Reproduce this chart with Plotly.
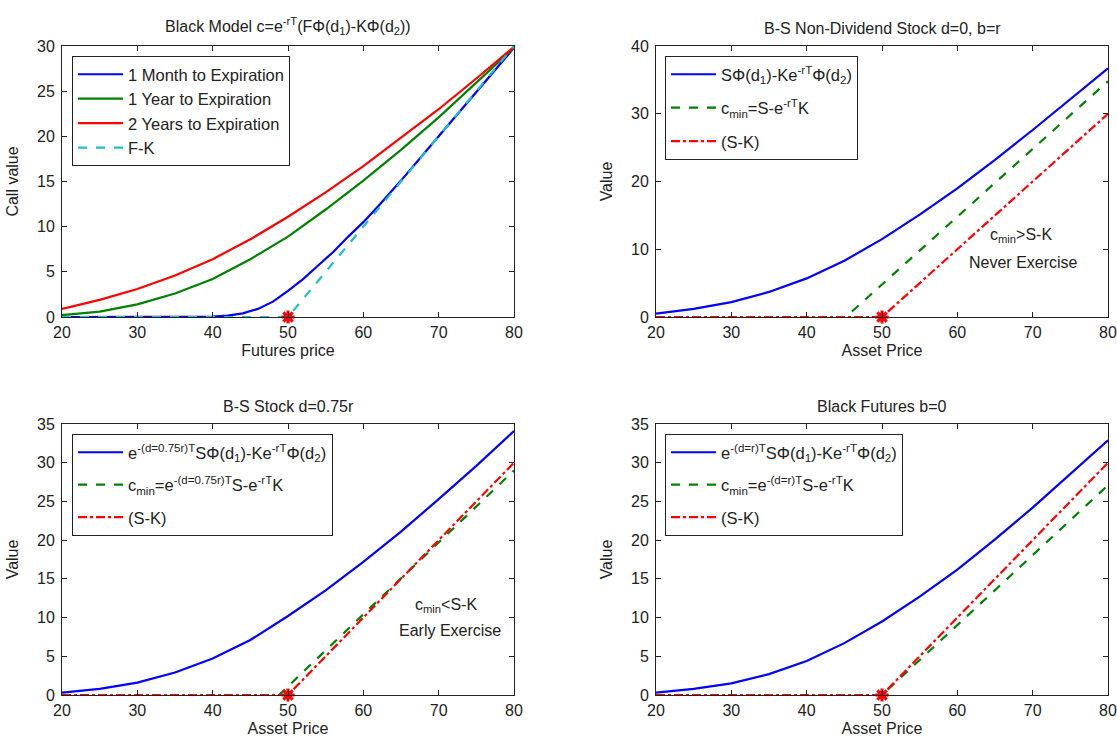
import plotly.graph_objects as go

# ---------------- data ----------------
# Panel 1: Black model, call value vs futures price
tl_x_red = [20, 25, 30, 35, 40, 45, 50, 55, 60, 65, 70, 75, 80]
tl_red = [0.9, 1.9, 3.1, 4.6, 6.4, 8.6, 11.1, 13.8, 16.7, 19.8, 23.0, 26.4, 29.9]
tl_x_green = [20, 25, 30, 35, 40, 45, 50, 55, 60, 65, 70, 75, 80]
tl_green = [0.2, 0.6, 1.4, 2.6, 4.2, 6.4, 8.9, 11.9, 15.1, 18.5, 22.1, 25.9, 29.8]
tl_x_blue = [20, 30, 38, 40, 42, 44, 46, 48, 50, 52, 54, 56, 58, 60, 62, 65, 70, 75, 80]
tl_blue = [0.0, 0.0, 0.02, 0.05, 0.15, 0.4, 0.9, 1.7, 2.9, 4.2, 5.7, 7.2, 8.9, 10.5, 12.3, 15.1, 20.0, 24.9, 29.8]
tl_x_fk = [20, 50, 80]
tl_fk = [0, 0, 30]

# Panel 2: B-S non-dividend stock
tr_x_blue = [20, 25, 30, 35, 40, 45, 50, 55, 60, 65, 70, 75, 80]
tr_blue = [0.5, 1.2, 2.2, 3.7, 5.7, 8.3, 11.5, 15.1, 19.0, 23.2, 27.6, 32.1, 36.7]
tr_x_cmin = [20, 45.2, 80]
tr_cmin = [0, 0, 34.8]
tr_x_sk = [20, 50, 80]
tr_sk = [0, 0, 30]

# Panel 3: B-S stock d=0.75r
bl_x_blue = [20, 25, 30, 35, 40, 45, 50, 55, 60, 65, 70, 75, 80]
bl_blue = [0.3, 0.8, 1.6, 2.9, 4.7, 7.1, 10.2, 13.5, 17.2, 21.1, 25.3, 29.6, 34.1]
bl_x_cmin = [20, 48.8, 80]
bl_cmin = [0, 0, 29.0]
bl_x_sk = [20, 50, 80]
bl_sk = [0, 0, 30]

# Panel 4: Black futures b=0
br_x_blue = [20, 25, 30, 35, 40, 45, 50, 55, 60, 65, 70, 75, 80]
br_blue = [0.3, 0.8, 1.5, 2.7, 4.4, 6.7, 9.5, 12.7, 16.2, 20.1, 24.2, 28.5, 32.9]
br_x_cmin = [20, 50, 80]
br_cmin = [0, 0, 27.1]
br_x_sk = [20, 50, 80]
br_sk = [0, 0, 30]

strike_x = [50]
strike_y = [0]

titles = [
    "Black Model c=e<sup>-rT</sup>(FΦ(d<sub>1</sub>)-KΦ(d<sub>2</sub>))",
    "B-S Non-Dividend Stock d=0, b=r",
    "B-S Stock d=0.75r",
    "Black Futures b=0",
]
xlabels = ["Futures price", "Asset Price", "Asset Price", "Asset Price"]
ylabels = ["Call value", "Value", "Value", "Value"]

BLUE = "#0000FF"
GREEN = "#008000"
RED = "#FF0000"
CYAN = "#1FBFCC"
INK = "#222222"
FONT = "Arial, Liberation Sans, sans-serif"

W, H = 1117, 742
# pixel boxes of each plot area: (left, right, top, bottom)
boxes = [(62, 514, 46, 317), (656, 1108, 46, 317), (62, 514, 424, 695), (656, 1108, 424, 695)]

def xd(b):
    return [b[0] / W, b[1] / W]

def yd(b):
    return [(H - b[3]) / H, (H - b[2]) / H]

fig = go.Figure()

def line(x, y, name, color, dash, ax, leg, group):
    fig.add_trace(go.Scatter(
        x=x, y=y, name=name, mode="lines",
        line=dict(color=color, width=2.2, dash=dash),
        xaxis="x" + ax, yaxis="y" + ax, legend=leg, legendgroup=group))

def star(ax, leg):
    fig.add_trace(go.Scatter(
        x=strike_x, y=strike_y, mode="markers", showlegend=False,
        marker=dict(symbol="asterisk-open", size=11, color=RED, line=dict(color=RED, width=3)),
        xaxis="x" + ax, yaxis="y" + ax, legend=leg, cliponaxis=False))

# panel 1
line(tl_x_blue, tl_blue, "1 Month to Expiration", BLUE, "solid", "", "legend", "a1")
line(tl_x_green, tl_green, "1 Year to Expiration", GREEN, "solid", "", "legend", "a2")
line(tl_x_red, tl_red, "2 Years to Expiration", RED, "solid", "", "legend", "a3")
line(tl_x_fk, tl_fk, "F-K", CYAN, "dash", "", "legend", "a4")
star("", "legend")

# panel 2
line(tr_x_blue, tr_blue, "SΦ(d<sub>1</sub>)-Ke<sup>-rT</sup>Φ(d<sub>2</sub>)", BLUE, "solid", "2", "legend2", "b1")
line(tr_x_cmin, tr_cmin, "c<sub>min</sub>=S-e<sup>-rT</sup>K", GREEN, "dash", "2", "legend2", "b2")
line(tr_x_sk, tr_sk, "(S-K)", RED, "dashdot", "2", "legend2", "b3")
star("2", "legend2")

# panel 3
line(bl_x_blue, bl_blue, "e<sup>-(d=0.75r)T</sup>SΦ(d<sub>1</sub>)-Ke<sup>-rT</sup>Φ(d<sub>2</sub>)", BLUE, "solid", "3", "legend3", "c1")
line(bl_x_cmin, bl_cmin, "c<sub>min</sub>=e<sup>-(d=0.75r)T</sup>S-e<sup>-rT</sup>K", GREEN, "dash", "3", "legend3", "c2")
line(bl_x_sk, bl_sk, "(S-K)", RED, "dashdot", "3", "legend3", "c3")
star("3", "legend3")

# panel 4
line(br_x_blue, br_blue, "e<sup>-(d=r)T</sup>SΦ(d<sub>1</sub>)-Ke<sup>-rT</sup>Φ(d<sub>2</sub>)", BLUE, "solid", "4", "legend4", "d1")
line(br_x_cmin, br_cmin, "c<sub>min</sub>=e<sup>-(d=r)T</sup>S-e<sup>-rT</sup>K", GREEN, "dash", "4", "legend4", "d2")
line(br_x_sk, br_sk, "(S-K)", RED, "dashdot", "4", "legend4", "d3")
star("4", "legend4")

yranges = [[0, 30], [0, 40], [0, 35], [0, 35]]
ydticks = [5, 10, 5, 5]

layout = dict(
    width=W, height=H, margin=dict(l=0, r=0, t=0, b=0),
    paper_bgcolor="white", plot_bgcolor="white",
    font=dict(family=FONT, size=16, color=INK),
    annotations=[],
)

for i, b in enumerate(boxes):
    suf = "" if i == 0 else str(i + 1)
    layout["xaxis" + suf] = dict(
        domain=xd(b), range=[20, 80], dtick=10, tick0=20,
        anchor="y" + suf, showline=True, linecolor=INK, linewidth=1,
        mirror="ticks", ticks="inside", ticklen=5, tickcolor=INK,
        showgrid=False, zeroline=False, automargin=False, ticklabelstandoff=1,
        tickfont=dict(size=16, family=FONT, color=INK),
        title=dict(text=xlabels[i], standoff=4, font=dict(size=16, family=FONT)),
    )
    layout["yaxis" + suf] = dict(
        domain=yd(b), range=yranges[i], dtick=ydticks[i], tick0=0,
        anchor="x" + suf, showline=True, linecolor=INK, linewidth=1,
        mirror="ticks", ticks="inside", ticklen=5, tickcolor=INK,
        showgrid=False, zeroline=False, automargin=False, ticklabelstandoff=3,
        tickfont=dict(size=16, family=FONT, color=INK),
        title=dict(text=ylabels[i], standoff=14, font=dict(size=16, family=FONT)),
    )
    layout["annotations"].append(dict(
        text=titles[i], xref="paper", yref="paper",
        x=(b[0] + b[1]) / 2 / W, y=(H - b[2] + 7) / H,
        xanchor="center", yanchor="bottom", showarrow=False,
        font=dict(size=16, family=FONT, color=INK),
    ))

# text annotations in panels 2 and 3
layout["annotations"] += [
    dict(text="c<sub>min</sub>>S-K", xref="x2", yref="y2", x=68.5, y=12.0,
         showarrow=False, font=dict(size=16, family=FONT, color=INK)),
    dict(text="Never Exercise", xref="x2", yref="y2", x=68.8, y=8.0,
         showarrow=False, font=dict(size=16, family=FONT, color=INK)),
    dict(text="c<sub>min</sub>&lt;S-K", xref="x3", yref="y3", x=71.0, y=11.6,
         showarrow=False, font=dict(size=16, family=FONT, color=INK)),
    dict(text="Early Exercise", xref="x3", yref="y3", x=71.5, y=8.3,
         showarrow=False, font=dict(size=16, family=FONT, color=INK)),
]

leg_common = dict(
    bgcolor="white", bordercolor=INK, borderwidth=1,
    font=dict(size=16.5, family=FONT, color=INK),
    xanchor="left", yanchor="top", itemwidth=45,
)
layout["legend"] = dict(x=72 / W, y=(H - 56) / H, tracegroupgap=0, **leg_common)
layout["legend2"] = dict(x=665 / W, y=(H - 56) / H, tracegroupgap=9, **leg_common)
layout["legend3"] = dict(x=72 / W, y=(H - 434) / H, tracegroupgap=8, **leg_common)
layout["legend4"] = dict(x=665 / W, y=(H - 434) / H, tracegroupgap=8, **leg_common)

fig.update_layout(**layout)
fig.write_html("out.html")
